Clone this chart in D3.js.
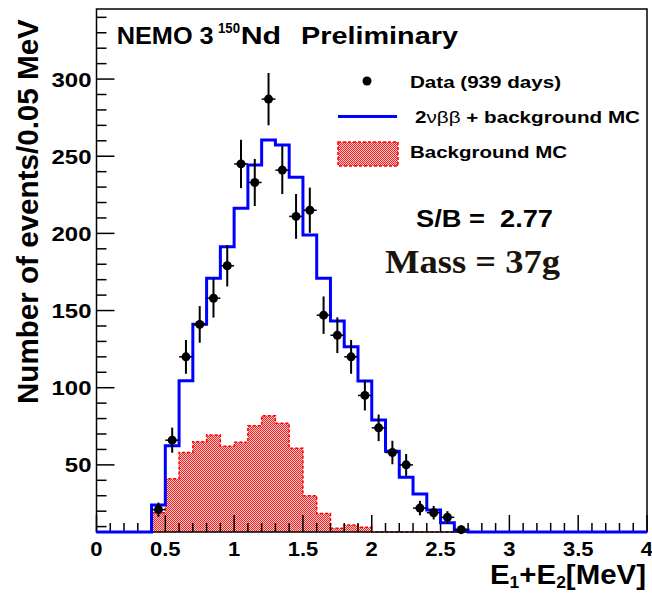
<!DOCTYPE html>
<html><head><meta charset="utf-8">
<script src="https://cdn.jsdelivr.net/npm/d3@7"></script>
<style>body{margin:0;background:#fff}svg{display:block}text{font-family:"Liberation Sans",Arial,sans-serif;font-weight:bold}</style>
</head><body>
<svg id="c" width="652" height="593"></svg>
<script>
// ---- data ----
const binStart = 0.4, binWidth = 0.1;
const totalMC = [24,62.4,104.5,141.1,170.9,191.4,216.3,244.3,260.5,257.3,236.4,199,170.9,143.2,126.6,104.3,79,58.9,41.9,31.1,20.7,12.5,7.8];
const backgroundMC = [19,41,58,65,69.3,62,64.6,75.3,81.8,77,60.7,30,18.5,9,11,9.5];
const dataCounts = [21,66,120,141,158,179,245,233,287,241,211,215,147,134,120,95,74,58,50,22,19,16,8];
const xTickLabels = ["0","0.5","1","1.5","2","2.5","3","3.5","4"];
const yTickLabels = ["50","100","150","200","250","300"];

const svg = d3.select("#c");
const L=96.5, R=647, T=9, B=532;
const x = d3.scaleLinear().domain([0,4]).range([L,R]);
const y = d3.scaleLinear().domain([6.5,345.4]).range([B,T]).clamp(true);

function stretch(sel, f){ sel.each(function(){ const w=this.getComputedTextLength(); d3.select(this).attr("textLength", w*f).attr("lengthAdjust","spacingAndGlyphs"); }); }

// pattern
const defs = svg.append("defs");
const pat = defs.append("pattern").attr("id","dots").attr("width",2).attr("height",2).attr("patternUnits","userSpaceOnUse");
pat.append("rect").attr("width",2).attr("height",2).attr("fill","#ffc4c4");
pat.append("rect").attr("width",1).attr("height",1).attr("fill","#f02828");
pat.append("rect").attr("x",1).attr("y",1).attr("width",1).attr("height",1).attr("fill","#f02828");

function histPoints(vals){
  const pts=[{e:0,v:0}];
  vals.forEach((v,i)=>pts.push({e:binStart+i*binWidth,v}));
  pts.push({e:binStart+vals.length*binWidth,v:0});
  pts.push({e:4,v:0});
  return pts;
}
const bgPts = histPoints(backgroundMC);
// red filled area
svg.append("path").datum(bgPts)
  .attr("d", d3.area().curve(d3.curveStepAfter).x(d=>x(d.e)).y0(B).y1(d=>y(d.v)))
  .attr("fill","url(#dots)");
svg.append("path").datum(bgPts)
  .attr("d", d3.line().curve(d3.curveStepAfter).x(d=>x(d.e)).y(d=>y(d.v)))
  .attr("fill","none").attr("stroke","#ff0000").attr("stroke-width",1.5).attr("stroke-dasharray","3,2");

// frame + ticks
svg.append("rect").attr("x",L).attr("y",T).attr("width",R-L).attr("height",B-T)
  .attr("fill","none").attr("stroke","#000").attr("stroke-width",1.5);
const tk = svg.append("g").attr("stroke","#000").attr("stroke-width",1.5);
d3.range(0,41).forEach(i=>{ const v=i/10, major=i%5===0;
  tk.append("line").attr("x1",x(v)).attr("x2",x(v)).attr("y1",B).attr("y2",B-(major?17:9)); });
d3.range(1,35).forEach(i=>{ const v=i*10, major=v%50===0; if(y(v)>=B) return;
  tk.append("line").attr("x1",L).attr("x2",L+(major?18:10)).attr("y1",y(v)).attr("y2",y(v)); });

// blue total MC
svg.append("path").datum(histPoints(totalMC))
  .attr("d", d3.line().curve(d3.curveStepAfter).x(d=>x(d.e)).y(d=>y(d.v)))
  .attr("fill","none").attr("stroke","#0000ff").attr("stroke-width",3);

// data points
const pg = svg.append("g");
dataCounts.forEach((n,i)=>{
  const c = binStart+(i+0.5)*binWidth, e=Math.sqrt(n);
  pg.append("line").attr("x1",x(c)).attr("x2",x(c)).attr("y1",y(n-e)).attr("y2",y(n+e)).attr("stroke","#000").attr("stroke-width",2);
  pg.append("line").attr("x1",x(c-binWidth/2)).attr("x2",x(c+binWidth/2)).attr("y1",y(n)).attr("y2",y(n)).attr("stroke","#000").attr("stroke-width",1.5);
  pg.append("circle").attr("cx",x(c)).attr("cy",y(n)).attr("r",4.5).attr("fill","#000");
});

// tick labels
svg.append("g").selectAll("text").data(xTickLabels).join("text")
  .attr("x",(d,i)=>x(i*0.5)).attr("y",556).attr("text-anchor","middle").attr("font-size",20).text(d=>d).call(stretch,1.1);
svg.append("g").selectAll("text").data(yTickLabels).join("text")
  .attr("x",91.5).attr("y",(d)=>y(+d)+7.5).attr("text-anchor","end").attr("font-size",21).text(d=>d).call(stretch,1.14);

// axis titles
svg.append("text").attr("transform","translate(37.5,404) rotate(-90)").attr("font-size",29.6).text("Number of events/0.05 MeV");
const xt = svg.append("text").attr("x",490).attr("y",584).attr("font-size",27);
xt.append("tspan").text("E");
xt.append("tspan").attr("font-size",16).attr("dy",4).text("1");
xt.append("tspan").attr("dy",-4).text("+E");
xt.append("tspan").attr("font-size",16).attr("dy",4).text("2");
xt.append("tspan").attr("dy",-4).text("[MeV]");
xt.attr("textLength",156).attr("lengthAdjust","spacingAndGlyphs");

// title
svg.append("text").attr("x",116.7).attr("y",44).attr("font-size",24).text("NEMO 3").attr("textLength",97).attr("lengthAdjust","spacingAndGlyphs");
svg.append("text").attr("x",218).attr("y",32.5).attr("font-size",14).text("150").attr("textLength",22).attr("lengthAdjust","spacingAndGlyphs");
svg.append("text").attr("x",240.7).attr("y",44).attr("font-size",24).text("Nd").attr("textLength",40.5).attr("lengthAdjust","spacingAndGlyphs");
svg.append("text").attr("x",301).attr("y",44).attr("font-size",24).text("Preliminary").attr("textLength",157).attr("lengthAdjust","spacingAndGlyphs");

// legend
svg.append("circle").attr("cx",367).attr("cy",81).attr("r",4.5).attr("fill","#000");
svg.append("text").attr("x",410).attr("y",87.5).attr("font-size",17).text("Data (939 days)").attr("textLength",151).attr("lengthAdjust","spacingAndGlyphs");
svg.append("line").attr("x1",338).attr("x2",397).attr("y1",116.5).attr("y2",116.5).attr("stroke","#0000ff").attr("stroke-width",3);
const lt = svg.append("text").attr("x",415).attr("y",123).attr("font-size",17);
lt.append("tspan").text("2");
lt.append("tspan").attr("font-weight","normal").text("νββ");
lt.append("tspan").text(" + background MC");
lt.attr("textLength",225).attr("lengthAdjust","spacingAndGlyphs");
svg.append("rect").attr("x",338).attr("y",142).attr("width",60).attr("height",24).attr("fill","url(#dots)")
  .attr("stroke","#ff0000").attr("stroke-width",1.5).attr("stroke-dasharray","3,2");
svg.append("text").attr("x",410).attr("y",157.5).attr("font-size",17).text("Background MC").attr("textLength",157).attr("lengthAdjust","spacingAndGlyphs");

svg.append("text").attr("x",416).attr("y",227).attr("font-size",24).attr("xml:space","preserve").text("S/B =  2.77").attr("textLength",137).attr("lengthAdjust","spacingAndGlyphs");
svg.append("text").attr("x",385).attr("y",273).attr("font-size",33).style("font-family","'Liberation Serif','Times New Roman',serif").attr("fill","#1c140c").text("Mass = 37g").attr("textLength",175).attr("lengthAdjust","spacingAndGlyphs");
</script>
</body></html>
